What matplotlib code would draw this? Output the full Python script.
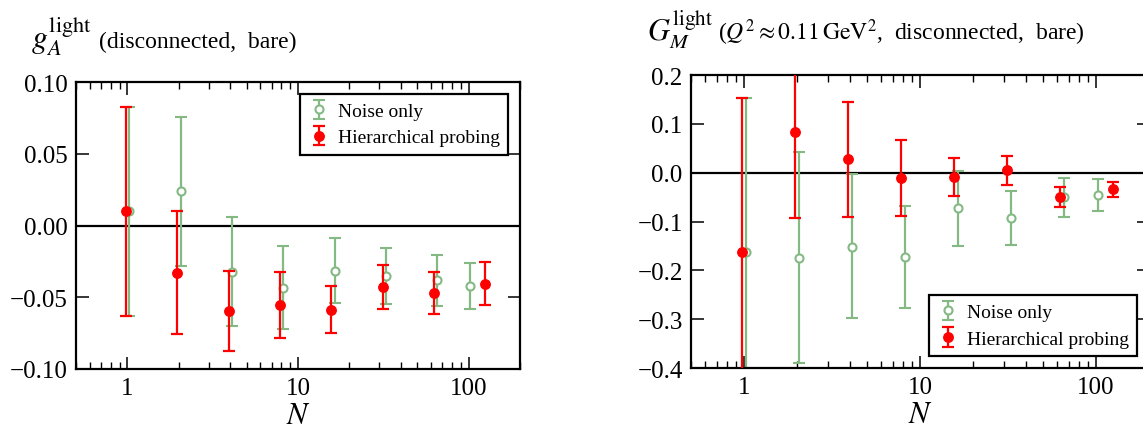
import numpy as np
import matplotlib
matplotlib.use("Agg")
import matplotlib.pyplot as plt
from matplotlib.ticker import FixedLocator, FixedFormatter, LogLocator, NullFormatter

plt.rcParams['font.family'] = 'serif'
plt.rcParams['font.serif'] = ['Liberation Serif', 'DejaVu Serif']
plt.rcParams['mathtext.fontset'] = 'stix'
plt.rcParams['axes.linewidth'] = 1.6

# number of probing vectors
n_noise = [1, 2, 4, 8, 16, 32, 64, 100]
n_hp = [1, 2, 4, 8, 16, 32, 64, 128]

# g_A (left panel): central value, lower end, upper end of error bar
ga_noise = [0.0102, 0.0237, -0.0323, -0.0433, -0.0316, -0.0353, -0.0381, -0.0419]
ga_noise_lo = [-0.0628, -0.0279, -0.0700, -0.0723, -0.0537, -0.0547, -0.0558, -0.0584]
ga_noise_hi = [0.0828, 0.0758, 0.0058, -0.0144, -0.0088, -0.0158, -0.0205, -0.0258]
ga_hp = [0.0102, -0.0330, -0.0598, -0.0553, -0.0586, -0.0430, -0.0472, -0.0407]
ga_hp_lo = [-0.0628, -0.0758, -0.0874, -0.0786, -0.0747, -0.0581, -0.0619, -0.0553]
ga_hp_hi = [0.0828, 0.0102, -0.0316, -0.0323, -0.0421, -0.0277, -0.0321, -0.0256]

# G_M (right panel)
gm_noise = [-0.162, -0.174, -0.1515, -0.1727, -0.073, -0.0935, -0.0505, -0.045]
gm_noise_lo = [-0.476, -0.390, -0.298, -0.2765, -0.150, -0.149, -0.090, -0.0785]
gm_noise_hi = [0.152, 0.043, -0.0034, -0.069, 0.0034, -0.038, -0.0116, -0.0137]
gm_hp = [-0.162, 0.0826, 0.0273, -0.011, -0.0082, 0.0048, -0.0498, -0.0334]
gm_hp_lo = [-0.476, -0.0928, -0.090, -0.0894, -0.0478, -0.0253, -0.071, -0.049]
gm_hp_hi = [0.152, 0.258, 0.144, 0.067, 0.0307, 0.034, -0.0294, -0.0184]

green = '#84b984'
red = '#ff0000'

W, H = 1143, 431
fig = plt.figure(figsize=(W / 100, H / 100), dpi=100)

ax1 = fig.add_axes([76 / W, (H - 370) / H, 444 / W, 287 / H])
ax2 = fig.add_axes([691 / W, (H - 369) / H, 458 / W, 293 / H])


def draw_panel(ax, yn, yn_lo, yn_hi, yh, yh_lo, yh_hi, ylim, yticks, legloc):
    yn = np.array(yn)
    yh = np.array(yh)
    ax.axhline(0, color='k', lw=1.6, zorder=1)
    ax.errorbar(np.array(n_noise) * 1.025, yn,
                yerr=[yn - np.array(yn_lo), np.array(yn_hi) - yn],
                fmt='o', color=green, mfc='white', mec=green, mew=1.5, ms=5.8,
                elinewidth=1.6, capsize=4.5, capthick=1.6, label='Noise only', zorder=2)
    ax.errorbar(np.array(n_hp) * 0.98, yh,
                yerr=[yh - np.array(yh_lo), np.array(yh_hi) - yh],
                fmt='o', color=red, mfc=red, mec=red, ms=6.8,
                elinewidth=1.6, capsize=4.5, capthick=1.6, label='Hierarchical probing', zorder=3)
    ax.set_xscale('log')
    ax.set_xlim(0.5, 200)
    ax.set_ylim(*ylim)
    ax.xaxis.set_major_locator(FixedLocator([1, 10, 100]))
    ax.xaxis.set_major_formatter(FixedFormatter(['1', '10', '100']))
    ax.xaxis.set_minor_locator(LogLocator(base=10, subs=np.arange(2, 10), numticks=20))
    ax.xaxis.set_minor_formatter(NullFormatter())
    ax.set_yticks(yticks)
    ax.tick_params(which='both', direction='in', top=True, right=True, labelsize=18)
    ax.tick_params(which='major', length=9, width=1.1, pad=6)
    ax.tick_params(which='minor', length=5, width=1.0)
    ax.set_xlabel('$N$', fontsize=22, labelpad=1)
    leg = ax.legend(loc=legloc, fontsize=14, numpoints=1, fancybox=False,
                    framealpha=1, edgecolor='k', borderpad=0.45, handlelength=1.1,
                    handletextpad=0.4, borderaxespad=0.6, labelspacing=0.45)
    leg.get_frame().set_linewidth(1.6)


draw_panel(ax1, ga_noise, ga_noise_lo, ga_noise_hi, ga_hp, ga_hp_lo, ga_hp_hi,
           (-0.10, 0.10), [-0.10, -0.05, 0.00, 0.05, 0.10], 'upper right')
ax1.set_yticklabels(['\u22120.10', '\u22120.05', '0.00', '0.05', '0.10'])

draw_panel(ax2, gm_noise, gm_noise_lo, gm_noise_hi, gm_hp, gm_hp_lo, gm_hp_hi,
           (-0.4, 0.2), [-0.4, -0.3, -0.2, -0.1, 0.0, 0.1, 0.2], 'lower right')
ax2.set_yticklabels(['\u22120.4', '\u22120.3', '\u22120.2', '\u22120.1', '0.0', '0.1', '0.2'])

# panel titles
fig.text(31 / W, (H - 48) / H, r'$g_A^{\rm light}$', fontsize=23, ha='left', va='baseline')
fig.text(99 / W, (H - 48) / H, '(disconnected,  bare)', fontsize=17, ha='left', va='baseline')
fig.text(647 / W, (H - 40) / H, r'$G_M^{\rm light}$', fontsize=22, ha='left', va='baseline')
fig.text(718 / W, (H - 40) / H, r'($Q^2 \approx 0.11\,\mathrm{GeV}^2$,  disconnected,  bare)',
         fontsize=17, ha='left', va='baseline')

fig.savefig('out.png', dpi=100)
